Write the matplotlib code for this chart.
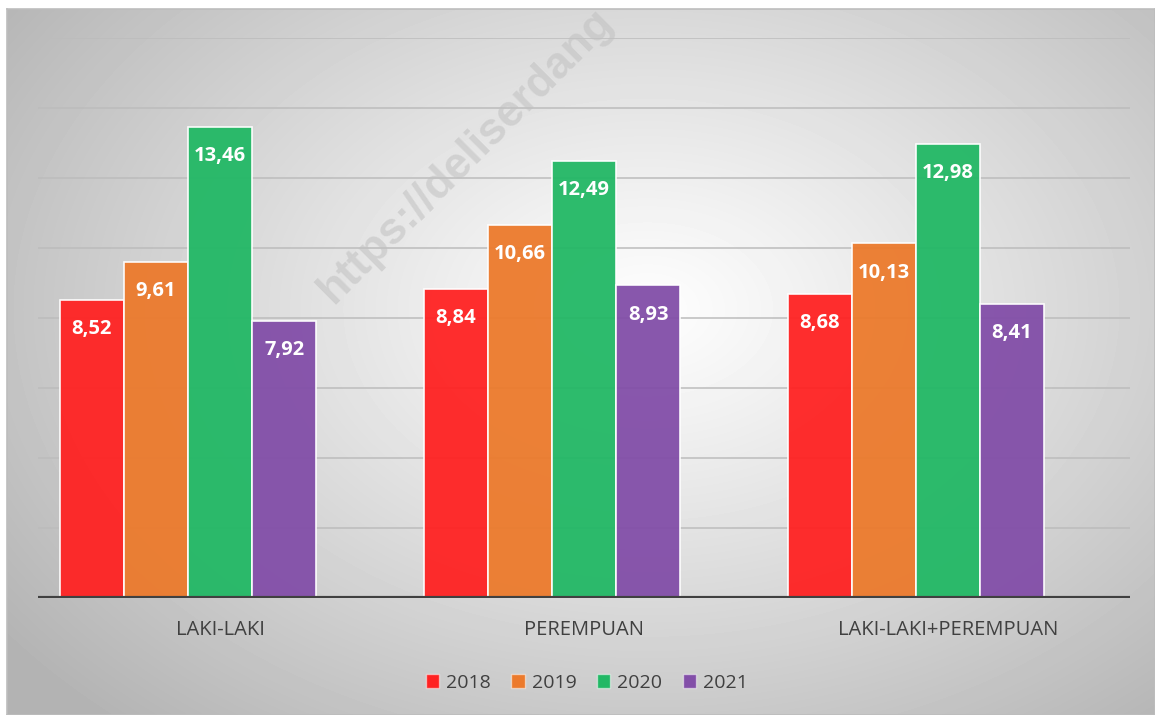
import numpy as np
import matplotlib
matplotlib.use('Agg')
from matplotlib import pyplot as plt
from matplotlib.patches import Patch

categories = ['LAKI-LAKI', 'PEREMPUAN', 'LAKI-LAKI+PEREMPUAN']
years = ['2018', '2019', '2020', '2021']
v2018 = [8.52, 8.84, 8.68]
v2019 = [9.61, 10.66, 10.13]
v2020 = [13.46, 12.49, 12.98]
v2021 = [7.92, 8.93, 8.41]
colors = ['#ff2222', '#ec7a2c', '#22b865', '#824ea8']

plt.rcParams['font.family'] = ['Open Sans', 'DejaVu Sans']

W, H = 1155, 715
fig = plt.figure(figsize=(W / 100, H / 100), dpi=100)
fig.patch.set_facecolor('white')

# radial grey background of the chart frame
bg = fig.add_axes([7 / W, 0, 1 - 7 / W, 1 - 9 / H], zorder=0)
yy, xx = np.mgrid[0:706, 0:1148]
r = np.sqrt(((xx - 640) / 620.0) ** 2 + ((yy - 300) / 430.0) ** 2)
shade = 0.995 - 0.22 * np.clip(r, 0, 1.3) ** 1.1
bg.imshow(shade, cmap='gray', vmin=0, vmax=1, aspect='auto', interpolation='bilinear')
bg.set_xticks([])
bg.set_yticks([])
for s in bg.spines.values():
    s.set_color('#bdbdbd')
    s.set_linewidth(1.2)

ax = fig.add_axes([38 / W, 1 - 598 / H, (1130 - 38) / W, (598 - 38) / H], zorder=1)
ax.patch.set_alpha(0)
ax.set_xlim(-0.5, 2.5)
ax.set_ylim(0, 16)

for g in range(2, 17, 2):
    ax.axhline(g, color='#bcbcbc', lw=1.1, zorder=1)

x = np.arange(len(categories))
w = 0.176
series = [v2018, v2019, v2020, v2021]
# the group holds a fifth, empty slot, so the four bars sit left of the tick
for i, vals in enumerate(series):
    pos = x + (i - 2) * w
    bars = ax.bar(pos, vals, w, color=colors[i], alpha=0.95,
                  edgecolor=(1, 1, 1, 0.55), linewidth=1.2, zorder=2)
    for b, v in zip(bars, vals):
        ax.annotate(f'{v:.2f}'.replace('.', ','), (b.get_x() + b.get_width() / 2, v),
                    xytext=(0, -21), textcoords='offset points', ha='center', va='center',
                    color='white', fontsize=14.5, fontweight='bold', zorder=3)

ax.axhline(0, color='#404040', lw=3, zorder=4)
ax.set_xticks(x)
ax.set_xticklabels(categories, fontsize=14.5, color='#404040')
ax.tick_params(axis='x', length=0, pad=16)
ax.set_yticks([])
for s in ax.spines.values():
    s.set_visible(False)

handles = [Patch(facecolor=c, edgecolor=(1, 1, 1, 0.5), label=y) for c, y in zip(colors, years)]
fig.legend(handles=handles, loc='center', bbox_to_anchor=(0.508, 1 - 683 / H), ncol=4,
           frameon=False, fontsize=14, labelcolor='#404040', handlelength=0.7,
           handleheight=0.7, handletextpad=0.35, columnspacing=1.05)

fig.text(466 / W, 1 - 156 / H, 'https://deliserdang', rotation=45, rotation_mode='anchor',
         ha='center', va='center', fontsize=32, fontweight='bold',
         family='Liberation Sans', color='#c0c0c0', alpha=0.55, zorder=10)

fig.savefig('out.png', dpi=100)
